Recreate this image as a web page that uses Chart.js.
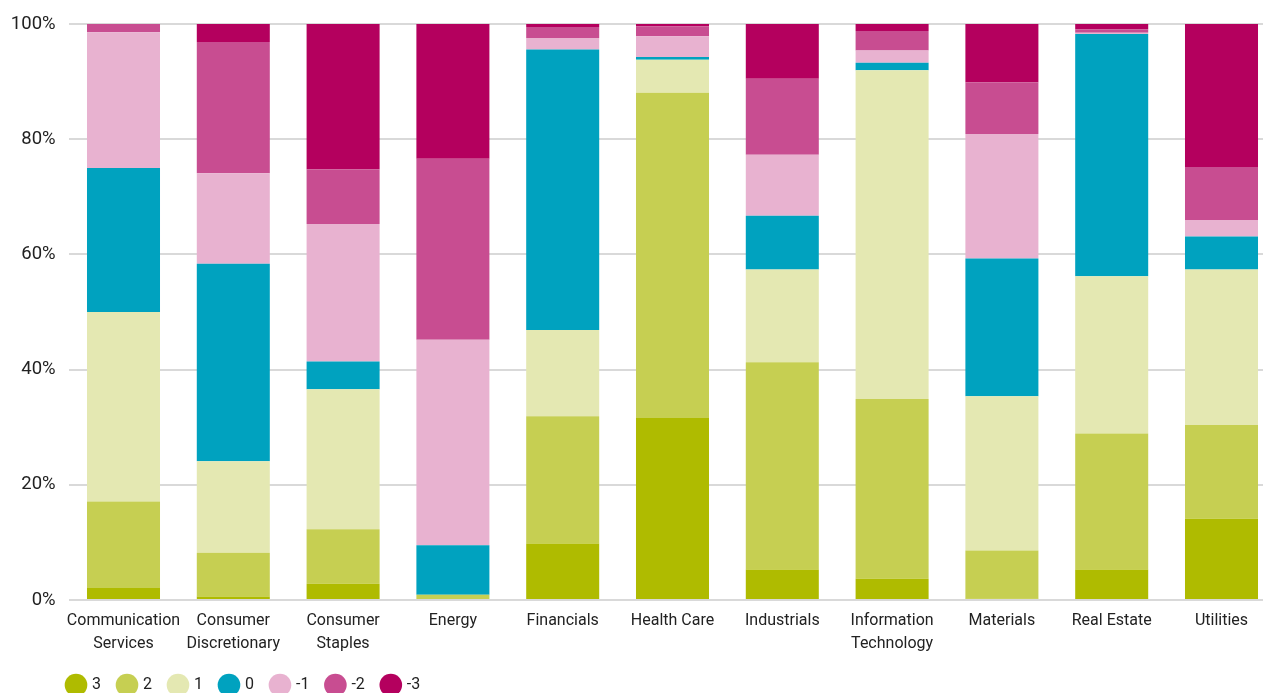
<!DOCTYPE html>
<html>
<head>
<meta charset="utf-8">
<script src="https://cdn.jsdelivr.net/npm/chart.js@4/dist/chart.umd.min.js"></script>
<style>
  html, body { margin: 0; padding: 0; background: #fff; overflow: hidden; }
  #wrap { width: 1263px; height: 693px; overflow: hidden; }
</style>
</head>
<body>
<div id="wrap"><canvas id="myChart" width="1280" height="703"></canvas></div>
<script>
// sectors
const sectors = [
    ['Communication', 'Services'],
    ['Consumer', 'Discretionary'],
    ['Consumer', 'Staples'],
    'Energy',
    'Financials',
    'Health Care',
    'Industrials',
    ['Information', 'Technology'],
    'Materials',
    'Real Estate',
    'Utilities'
];

// share of each score per sector (%)
const score3 = [2.1, 0.6, 2.8, 0, 9.8, 31.6, 5.3, 3.7, 0.2, 5.3, 14.1];
const score2 = [15.0, 7.6, 9.5, 0.9, 22.1, 56.5, 36.0, 31.2, 8.4, 23.6, 16.3];
const score1 = [32.9, 15.9, 24.3, 0, 15.0, 5.7, 16.1, 57.1, 26.8, 27.3, 27.0];
const score0 = [25.0, 34.3, 4.8, 8.6, 48.7, 0.5, 9.3, 1.3, 23.9, 42.1, 5.7];
const scoreM1 = [23.6, 15.7, 23.9, 35.7, 2.0, 3.6, 10.6, 2.1, 21.6, 0.2, 2.9];
const scoreM2 = [1.4, 22.8, 9.5, 31.4, 1.9, 1.7, 13.2, 3.4, 9.0, 0.6, 9.2];
const scoreM3 = [0, 3.1, 25.2, 23.4, 0.5, 0.4, 9.5, 1.2, 10.1, 0.9, 24.8];

const seriesLabels = ['3', '2', '1', '0', '-1', '-2', '-3'];
const seriesData = [score3, score2, score1, score0, scoreM1, scoreM2, scoreM3];
const seriesColors = ['#afbb00', '#c6cf52', '#e4e8b2', '#00a2bf', '#e8b2d0', '#c84d91', '#b4005e'];

const yTicks = [0, 20, 40, 60, 80, 100];

Chart.defaults.font.family = 'Roboto, "Open Sans", sans-serif';
Chart.defaults.color = '#222';

// move the legend so it lines up under the plot instead of the canvas edge
const legendShift = {
    id: 'legendShift',
    afterLayout(chart) {
        chart.legend.left += 40;
        chart.legend.right += 40;
    }
};

const ctx = document.getElementById('myChart').getContext('2d');
new Chart(ctx, {
    type: 'bar',
    data: {
        labels: sectors,
        datasets: seriesLabels.map((label, i) => ({
            label: label,
            data: seriesData[i],
            backgroundColor: seriesColors[i],
            borderWidth: 0,
            barPercentage: 0.665,
            categoryPercentage: 1
        }))
    },
    options: {
        responsive: false,
        animation: false,
        devicePixelRatio: 1,
        layout: {
            padding: { left: 10, right: 3.6, top: 23, bottom: 0 }
        },
        plugins: {
            tooltip: { enabled: false },
            legend: {
                position: 'bottom',
                align: 'start',
                labels: {
                    usePointStyle: true,
                    pointStyle: 'circle',
                    padding: 18,
                    font: { size: 16 },
                    color: '#222'
                }
            }
        },
        scales: {
            x: {
                stacked: true,
                grid: { display: false, drawTicks: false },
                border: { display: false },
                ticks: {
                    padding: 9.5,
                    maxRotation: 0,
                    autoSkip: false,
                    font: { size: 16, lineHeight: '23px' }
                },
                afterFit: (scale) => { scale.height -= 6; }
            },
            y: {
                stacked: true,
                min: 0,
                max: 100,
                afterBuildTicks: (scale) => { scale.ticks = yTicks.map(v => ({ value: v })); },
                afterFit: (scale) => { scale.width = 58.6; },
                grid: { color: '#d9d9d9', lineWidth: 2, drawTicks: false },
                border: { display: false },
                ticks: {
                    padding: 13,
                    font: { size: 18.5 },
                    callback: (v) => v + '%'
                }
            }
        }
    },
    plugins: [legendShift]
});
</script>
</body>
</html>
